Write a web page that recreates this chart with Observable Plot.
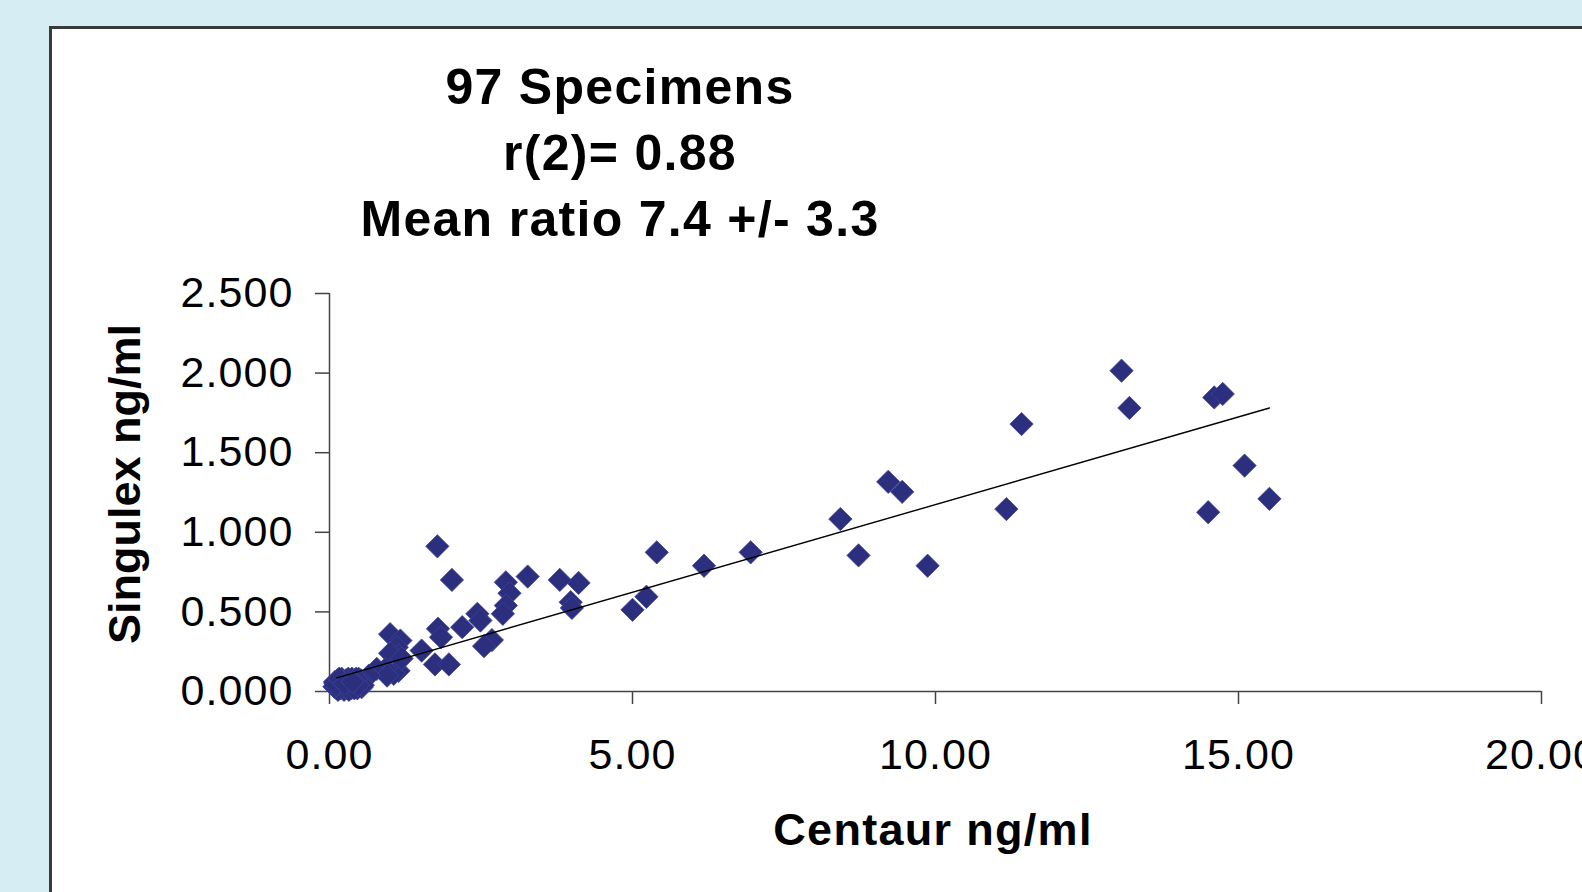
<!DOCTYPE html>
<html>
<head>
<meta charset="utf-8">
<script src="https://cdn.jsdelivr.net/npm/d3@7"></script>
<script src="https://cdn.jsdelivr.net/npm/@observablehq/plot@0.6"></script>
<style>
html, body { margin: 0; padding: 0; width: 1582px; height: 892px; overflow: hidden; background: #d6eef3; font-family: "Liberation Sans", Arial, sans-serif; }
#panel { position: absolute; left: 49px; top: 26px; width: 1580px; height: 900px; background: #ffffff; border: 3px solid #3a3a3a; box-sizing: border-box; }
#chart { position: absolute; left: 0; top: 0; width: 1582px; height: 892px; }
#chart svg { background: transparent !important; max-width: none !important; }
#chart svg text { letter-spacing: 1.1px; }
#title { position: absolute; left: 620px; top: 54px; transform: translateX(-50%); font-weight: bold; font-size: 50px; line-height: 66px; letter-spacing: 1.3px; white-space: nowrap; text-align: center; color: #000; }
.axlabel { position: absolute; font-weight: bold; font-size: 45px; line-height: 45px; white-space: nowrap; color: #000; }
#xlabel { left: 933px; top: 829px; transform: translate(-50%, -50%); letter-spacing: 1.3px; }
#ylabel { left: 124px; top: 484px; transform: translate(-50%, -50%) rotate(-90deg); }
</style>
</head>
<body>
<div id="panel"></div>
<div id="chart"></div>
<div id="title"><div>97 Specimens</div><div>r(2)= 0.88</div><div>Mean ratio 7.4 +/- 3.3</div></div>
<div id="xlabel" class="axlabel">Centaur ng/ml</div>
<div id="ylabel" class="axlabel">Singulex ng/ml</div>
<script>
// Centaur (x) values, ng/ml
const centaur = [
  13.07, 13.20, 14.60, 14.74, 15.10, 15.51, 14.50, 11.42, 11.17, 9.22,
  9.45, 9.87, 8.73, 8.43, 6.95, 6.18, 5.40, 5.23, 5.00, 4.11,
  3.98, 4.00, 3.80, 3.27, 2.91, 2.97, 2.91, 2.86, 2.44, 2.49,
  2.19, 2.02, 1.78, 1.79, 1.84, 2.68, 2.55, 1.52, 1.74, 1.97,
  1.00, 1.17, 1.11, 1.14, 1.00, 1.14, 1.06, 0.92, 0.78, 0.53,
  1.19, 0.95, 0.65,
  0.08, 0.10, 0.12, 0.13, 0.15, 0.17, 0.18, 0.20, 0.21, 0.23,
  0.24, 0.26, 0.27, 0.29, 0.30, 0.31, 0.33, 0.34, 0.36, 0.37,
  0.39, 0.40, 0.42, 0.43, 0.45, 0.46, 0.48, 0.50, 0.52, 0.55,
  0.09, 0.14, 0.19, 0.22, 0.28, 0.32, 0.35, 0.41, 0.44, 0.47,
  0.11, 0.16, 0.25, 0.38
];
// Singulex (y) values, ng/ml
const singulex = [
  2.015, 1.781, 1.847, 1.869, 1.419, 1.210, 1.126, 1.680, 1.146, 1.317,
  1.254, 0.790, 0.855, 1.083, 0.874, 0.790, 0.874, 0.595, 0.513, 0.682,
  0.561, 0.525, 0.701, 0.722, 0.686, 0.617, 0.540, 0.488, 0.488, 0.446,
  0.404, 0.701, 0.912, 0.394, 0.341, 0.323, 0.285, 0.257, 0.170, 0.170,
  0.360, 0.320, 0.278, 0.226, 0.240, 0.130, 0.111, 0.140, 0.142, 0.027,
  0.207, 0.100, 0.100,
  0.03, 0.05, 0.02, 0.07, 0.04, 0.06, 0.02, 0.08, 0.04, 0.06,
  0.01, 0.03, 0.07, 0.05, 0.02, 0.08, 0.04, 0.06, 0.02, 0.08,
  0.05, 0.03, 0.07, 0.04, 0.06, 0.02, 0.08, 0.05, 0.07, 0.04,
  0.06, 0.01, 0.05, 0.03, 0.06, 0.01, 0.05, 0.02, 0.08, 0.04,
  0.04, 0.08, 0.05, 0.06
];
// Trend line end points
const trendX = [0.12, 15.51];
const trendY = [0.086, 1.781];
// Tick values
const xTicks = [0, 5, 10, 15, 20];
const yTicks = [0, 0.5, 1.0, 1.5, 2.0, 2.5];

const points = centaur.map((c, i) => ({x: c, y: singulex[i]}));
const trend = trendX.map((t, i) => ({x: t, y: trendY[i]}));

const font = '"Liberation Sans", Arial, sans-serif';
const chart = Plot.plot({
  width: 1582,
  height: 892,
  marginLeft: 329,
  marginRight: 41,
  marginTop: 293,
  marginBottom: 201,
  x: {domain: [0, 20]},
  y: {domain: [0, 2.5]},
  style: {background: "transparent", fontFamily: font, fontSize: "43px", color: "#000", overflow: "hidden"},
  marks: [
    Plot.axisX({ticks: xTicks, tickFormat: d3.format(".2f"), tickSize: 13, tickPadding: 34, stroke: "#444", strokeWidth: 1.5, fill: "#000", fontSize: 43, label: null}),
    Plot.axisY({ticks: yTicks, tickFormat: d3.format(".3f"), tickSize: 14, tickPadding: 22, stroke: "#444", strokeWidth: 1.5, fill: "#000", fontSize: 43, label: null}),
    Plot.ruleY([0], {stroke: "#444", strokeWidth: 1.5}),
    Plot.ruleX([0], {stroke: "#444", strokeWidth: 1.5}),
    Plot.dot(points, {x: "x", y: "y", symbol: "diamond2", r: 10.5, fill: "#2b2f7e", stroke: "#3f4497", strokeWidth: 0.8}),
    Plot.line(trend, {x: "x", y: "y", stroke: "#000", strokeWidth: 1.4})
  ]
});
document.getElementById("chart").appendChild(chart);
</script>
</body>
</html>
